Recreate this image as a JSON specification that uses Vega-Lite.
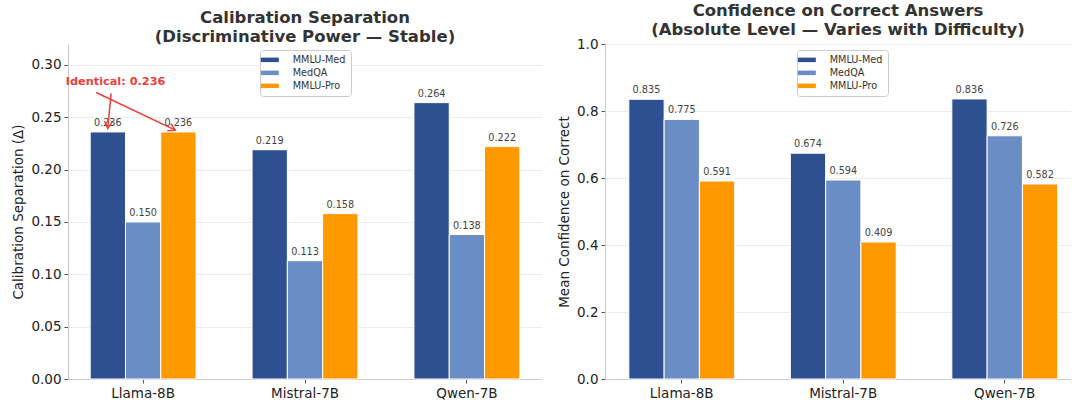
{
  "$schema": "https://vega.github.io/schema/vega-lite/v6.json",
  "padding": {"left": 11, "top": 2, "right": 0, "bottom": 0},
  "spacing": 15,
  "background": "white",
  "datasets": {
    "sep": [
      {"model": "Llama-8B", "series": "MMLU-Med", "value": 0.236},
      {"model": "Llama-8B", "series": "MedQA", "value": 0.150},
      {"model": "Llama-8B", "series": "MMLU-Pro", "value": 0.236},
      {"model": "Mistral-7B", "series": "MMLU-Med", "value": 0.219},
      {"model": "Mistral-7B", "series": "MedQA", "value": 0.113},
      {"model": "Mistral-7B", "series": "MMLU-Pro", "value": 0.158},
      {"model": "Qwen-7B", "series": "MMLU-Med", "value": 0.264},
      {"model": "Qwen-7B", "series": "MedQA", "value": 0.138},
      {"model": "Qwen-7B", "series": "MMLU-Pro", "value": 0.222}
    ],
    "conf": [
      {"model": "Llama-8B", "series": "MMLU-Med", "value": 0.835},
      {"model": "Llama-8B", "series": "MedQA", "value": 0.775},
      {"model": "Llama-8B", "series": "MMLU-Pro", "value": 0.591},
      {"model": "Mistral-7B", "series": "MMLU-Med", "value": 0.674},
      {"model": "Mistral-7B", "series": "MedQA", "value": 0.594},
      {"model": "Mistral-7B", "series": "MMLU-Pro", "value": 0.409},
      {"model": "Qwen-7B", "series": "MMLU-Med", "value": 0.836},
      {"model": "Qwen-7B", "series": "MedQA", "value": 0.726},
      {"model": "Qwen-7B", "series": "MMLU-Pro", "value": 0.582}
    ],
    "note": [
      {"note": "Identical: 0.236", "nx": -0.17, "ny": 0.2836}
    ],
    "arrows": [
      {"target": "MMLU-Med", "x1": -0.1975, "y1": 0.2728, "x2": -0.2185, "y2": 0.2393},
      {"target": "MMLU-Pro", "x1": -0.29, "y1": 0.2737, "x2": 0.199, "y2": 0.2377}
    ]
  },
  "config": {
    "font": "DejaVu Sans",
    "view": {"stroke": null},
    "axis": {
      "labelFont": "DejaVu Sans",
      "labelFontSize": 13.5,
      "labelColor": "#222222",
      "titleFont": "DejaVu Sans",
      "titleFontSize": 13.5,
      "titleFontWeight": "normal",
      "titleColor": "#222222",
      "domainColor": "#cccccc",
      "domainWidth": 1,
      "tickColor": "#555555",
      "tickSize": 4,
      "labelPadding": 3
    },
    "axisX": {"grid": false, "labelAngle": 0, "title": null},
    "axisY": {"grid": true, "gridColor": "#b0b0b0", "gridOpacity": 0.3, "gridWidth": 0.8, "zindex": 1, "titlePadding": 5},
    "title": {
      "font": "DejaVu Sans",
      "fontSize": 16.5,
      "fontWeight": "bold",
      "color": "#333333",
      "lineHeight": 19,
      "offset": -1,
      "anchor": "middle"
    },
    "legend": {
      "orient": "none",
      "legendX": 192,
      "legendY": 6,
      "title": null,
      "labelFont": "DejaVu Sans",
      "labelFontSize": 9.7,
      "labelColor": "#333333",
      "symbolType": "M-2,-0.5H2V0.5H-2Z",
      "symbolSize": 81,
      "symbolStrokeWidth": 0,
      "labelOffset": 18,
      "strokeColor": "#cccccc",
      "fillColor": "white",
      "padding": 5,
      "cornerRadius": 3,
      "rowPadding": 2
    }
  },
  "resolve": {"scale": {"color": "independent"}, "legend": {"color": "independent"}},
  "hconcat": [
    {
      "width": 474,
      "height": 335,
      "title": {"text": ["Calibration Separation", "(Discriminative Power — Stable)"]},
      "layer": [
        {
          "data": {"name": "sep"},
          "layer": [
            {
              "mark": {"type": "bar", "stroke": "white", "strokeWidth": 1},
              "encoding": {
                "x": {"field": "model", "type": "nominal", "sort": ["Llama-8B", "Mistral-7B", "Qwen-7B"], "scale": {"paddingInner": 0.346, "paddingOuter": 0.137}},
                "xOffset": {"field": "series", "type": "nominal", "sort": ["MMLU-Med", "MedQA", "MMLU-Pro"], "scale": {"paddingInner": 0, "paddingOuter": 0}},
                "y": {"field": "value", "type": "quantitative", "scale": {"domain": [0, 0.32], "nice": false}, "axis": {"title": "Calibration Separation (Δ)", "values": [0, 0.05, 0.1, 0.15, 0.2, 0.25, 0.3], "format": ".2f"}},
                "color": {"field": "series", "type": "nominal", "sort": ["MMLU-Med", "MedQA", "MMLU-Pro"], "scale": {"domain": ["MMLU-Med", "MedQA", "MMLU-Pro"], "range": ["#2E5090", "#6B8DC5", "#FF9900"]}}
              }
            },
            {
              "mark": {"type": "text", "fontSize": 9.7, "font": "DejaVu Sans", "color": "#444444", "baseline": "alphabetic", "dy": -6},
              "encoding": {
                "x": {"field": "model", "type": "nominal", "sort": ["Llama-8B", "Mistral-7B", "Qwen-7B"]},
                "xOffset": {"field": "series", "type": "nominal", "sort": ["MMLU-Med", "MedQA", "MMLU-Pro"]},
                "y": {"field": "value", "type": "quantitative"},
                "text": {"field": "value", "type": "quantitative", "format": ".3f"}
              }
            }
          ]
        },
        {
          "layer": [
            {
              "data": {"name": "note"},
              "mark": {"type": "text", "font": "DejaVu Sans", "fontWeight": "bold", "fontSize": 11.3, "color": "#E8413C", "baseline": "middle", "align": "center"},
              "encoding": {
                "x": {"field": "nx", "type": "quantitative", "scale": {"domain": [-0.464, 2.464], "nice": false, "zero": false}, "axis": null},
                "y": {"field": "ny", "type": "quantitative", "scale": {"domain": [0, 0.32], "nice": false}, "axis": null},
                "text": {"field": "note"}
              }
            },
            {
              "data": {"name": "arrows"},
              "mark": {"type": "rule", "color": "#E8413C", "strokeWidth": 1.5},
              "encoding": {
                "x": {"field": "x1", "type": "quantitative", "axis": null},
                "x2": {"field": "x2"},
                "y": {"field": "y1", "type": "quantitative", "axis": null},
                "y2": {"field": "y2"}
              }
            },
            {
              "data": {"name": "arrows"},
              "transform": [{"filter": "datum.target === 'MMLU-Pro'"}],
              "mark": {"type": "point", "shape": "M-1,-0.55L0,0L-1,0.55", "filled": false, "stroke": "#E8413C", "strokeWidth": 1.5, "size": 196, "angle": 25.4, "opacity": 1},
              "encoding": {
                "x": {"field": "x2", "type": "quantitative", "axis": null},
                "y": {"field": "y2", "type": "quantitative", "axis": null}
              }
            },
            {
              "data": {"name": "arrows"},
              "transform": [{"filter": "datum.target === 'MMLU-Med'"}],
              "mark": {"type": "point", "shape": "M-1,-0.55L0,0L-1,0.55", "filled": false, "stroke": "#E8413C", "strokeWidth": 1.5, "size": 196, "angle": 95.5, "opacity": 1},
              "encoding": {
                "x": {"field": "x2", "type": "quantitative", "axis": null},
                "y": {"field": "y2", "type": "quantitative", "axis": null}
              }
            }
          ]
        }
      ],
      "resolve": {"scale": {"x": "independent", "y": "independent"}}
    },
    {
      "width": 466,
      "height": 335,
      "title": {"text": ["Confidence on Correct Answers", "(Absolute Level — Varies with Difficulty)"]},
      "data": {"name": "conf"},
      "layer": [
        {
          "mark": {"type": "bar", "stroke": "white", "strokeWidth": 1},
          "encoding": {
            "x": {"field": "model", "type": "nominal", "sort": ["Llama-8B", "Mistral-7B", "Qwen-7B"], "scale": {"paddingInner": 0.3455, "paddingOuter": 0.1155, "align": 0.639}},
            "xOffset": {"field": "series", "type": "nominal", "sort": ["MMLU-Med", "MedQA", "MMLU-Pro"], "scale": {"paddingInner": 0, "paddingOuter": 0}},
            "y": {"field": "value", "type": "quantitative", "scale": {"domain": [0, 1], "nice": false}, "axis": {"title": "Mean Confidence on Correct", "values": [0, 0.2, 0.4, 0.6, 0.8, 1.0], "format": ".1f"}},
            "color": {"field": "series", "type": "nominal", "sort": ["MMLU-Med", "MedQA", "MMLU-Pro"], "scale": {"domain": ["MMLU-Med", "MedQA", "MMLU-Pro"], "range": ["#2E5090", "#6B8DC5", "#FF9900"]}}
          }
        },
        {
          "mark": {"type": "text", "fontSize": 9.7, "font": "DejaVu Sans", "color": "#444444", "baseline": "alphabetic", "dy": -6},
          "encoding": {
            "x": {"field": "model", "type": "nominal", "sort": ["Llama-8B", "Mistral-7B", "Qwen-7B"]},
            "xOffset": {"field": "series", "type": "nominal", "sort": ["MMLU-Med", "MedQA", "MMLU-Pro"]},
            "y": {"field": "value", "type": "quantitative"},
            "text": {"field": "value", "type": "quantitative", "format": ".3f"}
          }
        }
      ]
    }
  ]
}
